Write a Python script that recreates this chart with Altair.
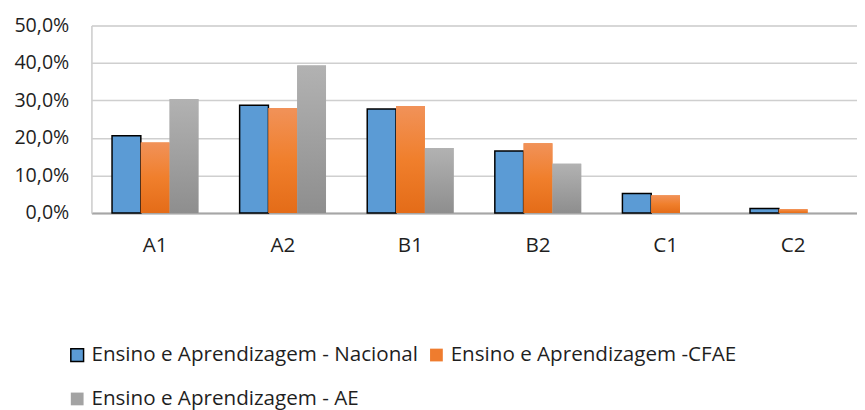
import altair as alt
import pandas as pd

levels = ["A1", "A2", "B1", "B2", "C1", "C2"]
series = [
    "Ensino e Aprendizagem - Nacional",
    "Ensino e Aprendizagem -CFAE",
    "Ensino e Aprendizagem - AE",
]
nacional = [0.206, 0.287, 0.277, 0.165, 0.052, 0.012]
cfae = [0.188, 0.280, 0.285, 0.186, 0.047, 0.010]
ae = [0.304, 0.393, 0.173, 0.131, 0.0, 0.0]

rows = []
for s, vals in zip(series, [nacional, cfae, ae]):
    for lv, v in zip(levels, vals):
        rows.append({"level": lv, "series": s, "value": v})
df = pd.DataFrame(rows)

FONT = "Open Sans"
TXT = "#1f1f1f"

x_enc = alt.X(
    "level:N", sort=levels, title=None,
    scale=alt.Scale(paddingInner=0.323, paddingOuter=0.1615),
    axis=alt.Axis(labelAngle=0, ticks=False, labelPadding=22, labelFontSize=21,
                  labelFont=FONT, labelColor=TXT, domainColor="#a6a6a6",
                  domainWidth=2, grid=False),
)
xo_enc = alt.XOffset("series:N", sort=series,
                     scale=alt.Scale(domain=series, paddingInner=0, paddingOuter=0))
y_enc = alt.Y(
    "value:Q", title=None,
    scale=alt.Scale(domain=[0, 0.5], nice=False),
    axis=alt.Axis(values=[0, 0.1, 0.2, 0.3, 0.4, 0.5],
                  labelExpr="replace(format(datum.value, '.1%'), '.', ',')",
                  ticks=False, labelPadding=23, labelFontSize=20, labelFont=FONT,
                  labelColor=TXT, gridColor="#cfcfcf", gridWidth=1.5,
                  domainColor="#cfcfcf", domainWidth=1.5),
)

leg = alt.Legend(
    title=None, orient="none", legendX=-25, legendY=325, columns=2,
    direction="horizontal",
    symbolType="square", symbolSize=169, symbolStrokeWidth=1.5,
    labelFont=FONT, labelFontSize=21, labelColor=TXT, labelLimit=600,
    labelOffset=4, columnPadding=8, rowPadding=23,
)

base = alt.Chart(df).mark_bar(strokeWidth=1.5).encode(
    x=x_enc, xOffset=xo_enc, y=y_enc,
    color=alt.Color("series:N", sort=series,
                    scale=alt.Scale(domain=series, range=["#5B9BD5", "#EF7C2E", "#A3A3A3"]),
                    legend=leg),
    stroke=alt.Stroke("series:N", sort=series,
                      scale=alt.Scale(domain=series, range=["#000000", "transparent", "transparent"]),
                      legend=leg),
)

orange_grad = alt.LinearGradient(
    gradient="linear", x1=0, x2=0, y1=0, y2=1,
    stops=[alt.GradientStop(offset=0, color="#F19259"),
           alt.GradientStop(offset=0.5, color="#F07F2C"),
           alt.GradientStop(offset=1, color="#E46C18")],
)
gray_grad = alt.LinearGradient(
    gradient="linear", x1=0, x2=0, y1=0, y2=1,
    stops=[alt.GradientStop(offset=0, color="#B2B2B2"),
           alt.GradientStop(offset=1, color="#8E8E8E")],
)

over_orange = alt.Chart(df).transform_filter(
    alt.datum.series == series[1]
).mark_bar(color=orange_grad).encode(x=x_enc, xOffset=xo_enc, y=y_enc)

over_gray = alt.Chart(df).transform_filter(
    alt.datum.series == series[2]
).mark_bar(color=gray_grad).encode(x=x_enc, xOffset=xo_enc, y=y_enc)

chart = alt.layer(base, over_orange, over_gray).properties(
    width=780, height=191, autosize="none",
    padding={"left": 85, "top": 14, "right": 0, "bottom": 200},
).configure_view(stroke=None).configure(background="white")

chart.save("out.html", embed_options={"renderer": "svg", "actions": False})
